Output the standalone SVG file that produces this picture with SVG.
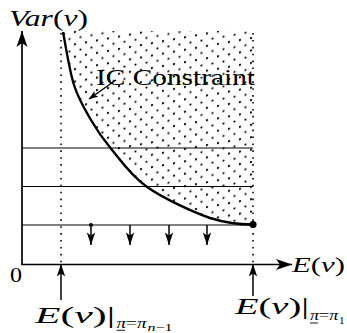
<svg xmlns="http://www.w3.org/2000/svg" width="347" height="333" viewBox="0 0 347 333">
<style>
.ax{stroke:#000;stroke-width:1.7;fill:none}
.ln{stroke:#000;stroke-width:1;fill:none}
.dot{stroke:#000;stroke-width:1.6;stroke-dasharray:1.6 5.3;fill:none}
.arr{stroke:#000;stroke-width:1.5;fill:none}
.cv{stroke:#000;stroke-width:2.4;fill:none}
.t{font-family:"Liberation Serif","DejaVu Serif",serif;fill:#000}
.i{font-style:italic}
</style>
<defs>
<marker id="bigHead" markerUnits="userSpaceOnUse" viewBox="-17 -6 18 12" refX="0" refY="0" markerWidth="18" markerHeight="12" orient="auto" overflow="visible">
<path d="M0,0 L-16,-5.5 L-12,0 L-16,5.5 Z" fill="#000"/>
</marker>
<marker id="head" markerUnits="userSpaceOnUse" viewBox="-13 -5 14 10" refX="0" refY="0" markerWidth="14" markerHeight="10" orient="auto" overflow="visible">
<path d="M0,0 L-12.5,-4.2 L-9.5,0 L-12.5,4.2 Z" fill="#000"/>
</marker>
<marker id="smallHead" markerUnits="userSpaceOnUse" viewBox="-10 -4 11 8" refX="0" refY="0" markerWidth="11" markerHeight="8" orient="auto" overflow="visible">
<path d="M0,0 L-9,-3.5 L-7,0 L-9,3.5 Z" fill="#000"/>
</marker>
<pattern id="dots" patternUnits="userSpaceOnUse" x="0" y="0" width="11" height="12.4" patternTransform="translate(63,33) skewY(-10)">
<circle cx="1" cy="1" r="1.1" fill="#000"/>
<circle cx="6.5" cy="7.2" r="1.1" fill="#000"/>
</pattern>
<clipPath id="region">
<path d="M63,32 C64.8,40.8 69.3,70.3 74,85 C78.7,99.7 84.9,109.45 91,120 C97.1,130.55 101.4,137.2 110.7,148.3 C120,159.4 130.15,175.1 146.7,186.7 C163.25,198.3 192.3,211.8 210,218 C226,223 240,224.5 253,224.5 L254,31 L63,31 Z"/>
</clipPath>
</defs>

<g id="hatch">
<rect x="60" y="31" width="196" height="196" fill="url(#dots)" clip-path="url(#region)"/>
<line class="dot" x1="61" y1="33" x2="61" y2="263"/>
<line class="dot" x1="253" y1="33" x2="253" y2="263"/>
</g>

<g id="levels">
<line class="ln" x1="22" y1="148" x2="253" y2="148"/>
<line class="ln" x1="22" y1="186.5" x2="253" y2="186.5"/>
<line class="ln" x1="22" y1="225" x2="253" y2="225"/>
</g>

<g id="ic-curve">
<path class="cv" d="M63,32 C64.8,40.8 69.3,70.3 74,85 C78.7,99.7 84.9,109.45 91,120 C97.1,130.55 101.4,137.2 110.7,148.3 C120,159.4 130.15,175.1 146.7,186.7 C163.25,198.3 192.3,211.8 210,218 C226,223 240,224.5 253,224.5"/>
<circle cx="253" cy="224.5" r="3.6" fill="#000"/>
</g>

<g id="axes">
<line class="ax" x1="22" y1="264.5" x2="22" y2="31" marker-end="url(#bigHead)"/>
<line class="ax" x1="21.2" y1="264.5" x2="292" y2="264.5" marker-end="url(#bigHead)"/>
</g>

<g id="connectors">
<circle cx="91" cy="225" r="2" fill="#000"/>
<line class="arr" x1="91" y1="225" x2="91" y2="245" marker-end="url(#head)"/>
<line class="arr" x1="130" y1="225" x2="130" y2="245" marker-end="url(#head)"/>
<line class="arr" x1="169" y1="225" x2="169" y2="245" marker-end="url(#head)"/>
<line class="arr" x1="207" y1="225" x2="207" y2="245" marker-end="url(#head)"/>
<line class="arr" x1="61" y1="300" x2="61" y2="264" marker-end="url(#head)"/>
<line class="arr" x1="253" y1="296" x2="253" y2="264" marker-end="url(#head)"/>
<line class="arr" x1="116" y1="80" x2="89" y2="99" marker-end="url(#smallHead)"/>
</g>

<g id="labels">
<text class="t" x="9" y="26" font-size="24" textLength="79" lengthAdjust="spacingAndGlyphs"><tspan class="i">Var</tspan>(<tspan class="i">v</tspan>)</text>
<text class="t" x="96" y="85" font-size="24" textLength="159" lengthAdjust="spacingAndGlyphs">IC Constraint</text>
<text class="t" x="10" y="281.5" font-size="21" textLength="12" lengthAdjust="spacingAndGlyphs">0</text>
<text class="t" x="292" y="271.5" font-size="22" textLength="53" lengthAdjust="spacingAndGlyphs"><tspan class="i">E</tspan>(<tspan class="i">v</tspan>)</text>

<g id="label-left">
<text class="t" x="35" y="322.5" font-size="23" textLength="80" lengthAdjust="spacingAndGlyphs"><tspan class="i">E</tspan>(<tspan class="i">v</tspan>)|</text>
<text class="t i" x="116.5" y="327.5" font-size="15" textLength="30" lengthAdjust="spacingAndGlyphs">π<tspan font-style="normal">=</tspan>π</text>
<line x1="116.5" y1="330.3" x2="125" y2="330.3" stroke="#000" stroke-width="0.9"/>
<text class="t" x="147.5" y="330.5" font-size="11" textLength="25" lengthAdjust="spacingAndGlyphs"><tspan class="i">n</tspan>−1</text>
</g>

<g id="label-right">
<text class="t" x="235" y="314" font-size="23" textLength="74" lengthAdjust="spacingAndGlyphs"><tspan class="i">E</tspan>(<tspan class="i">v</tspan>)|</text>
<text class="t i" x="310" y="320" font-size="15" textLength="28.5" lengthAdjust="spacingAndGlyphs">π<tspan font-style="normal">=</tspan>π</text>
<line x1="310" y1="323" x2="318" y2="323" stroke="#000" stroke-width="0.9"/>
<text class="t" x="339" y="323.5" font-size="11">1</text>
</g>
</g>
</svg>
